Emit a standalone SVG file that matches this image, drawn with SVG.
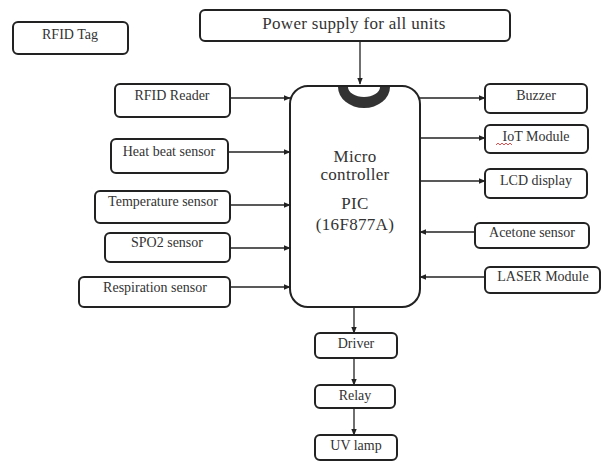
<svg xmlns="http://www.w3.org/2000/svg" width="605" height="463" viewBox="0 0 605 463">
<style>
.box{fill:#fff;stroke:#222;stroke-width:2}
.t{font-family:"Liberation Serif","Times New Roman",serif;font-size:14px;fill:#333;text-anchor:middle}
.big{font-size:17px;letter-spacing:0.3px}
.c{stroke:#222;stroke-width:1.3;fill:none}
</style>
<defs>
<marker id="ah" viewBox="0 0 10 10" refX="9" refY="5" markerWidth="7" markerHeight="7" orient="auto" markerUnits="userSpaceOnUse">
<path d="M0,1 L10,5 L0,9 z" fill="#222"/>
</marker>
</defs>
<rect width="605" height="463" fill="#fff"/>
<g id="rfid-tag"><rect class="box" x="13" y="22" width="115" height="32" rx="5"/><text class="t" x="70" y="39">RFID Tag</text></g>
<g id="power"><rect class="box" x="200" y="10" width="310" height="31" rx="5"/><text class="t big" x="354" y="29">Power supply for all units</text></g>
<g id="mcu">
<rect class="box" x="290" y="86" width="130" height="221" rx="18"/>
<path d="M338,87 A26,21 0 0 0 390,87 Z" fill="#333"/>
<path d="M348,87 A16,10 0 0 0 380,87 Z" fill="#fff"/>
<text class="t big" x="355" y="162">Micro</text>
<text class="t big" x="355" y="180">controller</text>
<text class="t big" x="355" y="209">PIC</text>
<text class="t big" x="355" y="230">(16F877A)</text>
</g>
<g id="rfid-reader"><rect class="box" x="115" y="84" width="115" height="33" rx="5"/><text class="t" x="172" y="100">RFID Reader</text></g>
<g id="heart"><rect class="box" x="111" y="139" width="117" height="34" rx="5"/><text class="t" x="169" y="156">Heat beat sensor</text></g>
<g id="temp"><rect class="box" x="95" y="191" width="135" height="32" rx="5"/><text class="t" x="163" y="206">Temperature sensor</text></g>
<g id="spo2"><rect class="box" x="105" y="233" width="125" height="29" rx="5"/><text class="t" x="167" y="247">SPO2 sensor</text></g>
<g id="resp"><rect class="box" x="79" y="277" width="151" height="30" rx="5"/><text class="t" x="155" y="292">Respiration sensor</text></g>
<g id="buzzer"><rect class="box" x="485" y="84" width="102" height="29" rx="5"/><text class="t" x="536" y="100">Buzzer</text></g>
<g id="iot"><rect class="box" x="485" y="125" width="103" height="28" rx="5"/><text class="t" x="536" y="141">IoT Module</text>
<path d="M496,145 l2,-2 l2,2 l2,-2 l2,2 l2,-2 l2,2 l2,-2 l2,2" stroke="#d22" stroke-width="0.8" fill="none"/></g>
<g id="lcd"><rect class="box" x="485" y="169" width="102" height="29" rx="5"/><text class="t" x="536" y="185">LCD display</text></g>
<g id="acetone"><rect class="box" x="475" y="223" width="114" height="25" rx="5"/><text class="t" x="532" y="237">Acetone sensor</text></g>
<g id="laser"><rect class="box" x="485" y="267" width="115" height="26" rx="5"/><text class="t" x="543" y="281">LASER Module</text></g>
<g id="driver"><rect class="box" x="315" y="333" width="82" height="25" rx="5"/><text class="t" x="356" y="348">Driver</text></g>
<g id="relay"><rect class="box" x="315" y="385" width="80" height="23" rx="5"/><text class="t" x="355" y="400">Relay</text></g>
<g id="uv"><rect class="box" x="315" y="435" width="82" height="25" rx="5"/><text class="t" x="356" y="450">UV lamp</text></g>
<g id="connectors">
<line class="c" x1="360" y1="41" x2="360" y2="84" marker-end="url(#ah)"/>
<line class="c" x1="230" y1="98" x2="290" y2="98" marker-end="url(#ah)"/>
<line class="c" x1="228" y1="152" x2="290" y2="152" marker-end="url(#ah)"/>
<line class="c" x1="230" y1="205" x2="290" y2="205" marker-end="url(#ah)"/>
<line class="c" x1="230" y1="248" x2="290" y2="248" marker-end="url(#ah)"/>
<line class="c" x1="230" y1="287" x2="290" y2="287" marker-end="url(#ah)"/>
<line class="c" x1="420" y1="98" x2="485" y2="98" marker-end="url(#ah)"/>
<line class="c" x1="420" y1="138" x2="485" y2="138" marker-end="url(#ah)"/>
<line class="c" x1="420" y1="181" x2="485" y2="181" marker-end="url(#ah)"/>
<line class="c" x1="475" y1="232" x2="420" y2="232" marker-end="url(#ah)"/>
<line class="c" x1="485" y1="277" x2="420" y2="277" marker-end="url(#ah)"/>
<line class="c" x1="354" y1="307" x2="354" y2="333" marker-end="url(#ah)"/>
<line class="c" x1="354" y1="358" x2="354" y2="385" marker-end="url(#ah)"/>
<line class="c" x1="354" y1="408" x2="354" y2="435" marker-end="url(#ah)"/>
</g>
</svg>
